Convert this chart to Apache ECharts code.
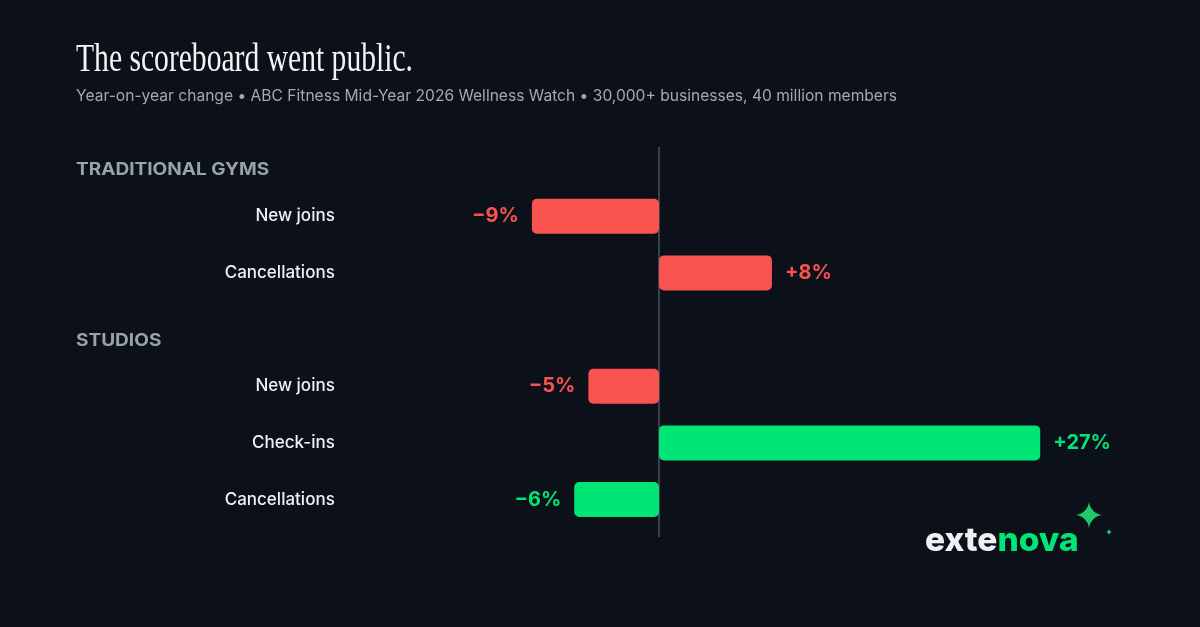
<!DOCTYPE html>
<html>
<head>
<meta charset="utf-8">
<script src="https://cdn.jsdelivr.net/npm/echarts@6/dist/echarts.min.js"></script>
<style>
html,body{margin:0;padding:0;background:#0c1018;}
#chart{width:1200px;height:627px;}
</style>
</head>
<body>
<div id="chart"></div>
<script>
const titleText = "The scoreboard went public.";
const subtitleText = "Year-on-year change \u2022 ABC Fitness Mid-Year 2026 Wellness Watch \u2022 30,000+ businesses, 40 million members";
const groupNames = ["TRADITIONAL GYMS", "STUDIOS"];
const gymCategories = ["New joins", "Cancellations"];
const gymValues = [-9, 8];
const studioCategories = ["New joins", "Check-ins", "Cancellations"];
const studioValues = [-5, 27, -6];
const xMin = -10, xMax = 30;

const RED = "#f8534f", GREEN = "#00e676";

// good outcome: cancellations falling, anything else rising
function isGood(cat, v) { return cat === "Cancellations" ? v < 0 : v > 0; }
function fmt(v) { return (v < 0 ? "\u2212" + Math.abs(v) : "+" + v) + "%"; }

const categories = gymCategories.concat([""], studioCategories);
const values = gymValues.concat([null], studioValues);

const seriesData = values.map((v, i) => {
  if (v === null) return { value: null };
  const c = isGood(categories[i], v) ? GREEN : RED;
  return {
    value: v,
    itemStyle: { color: c },
    label: { position: v < 0 ? "left" : "right", color: c }
  };
});

const chart = echarts.init(document.getElementById("chart"));
chart.setOption({
  backgroundColor: "#0c1018",
  animation: false,
  grid: { left: 517.8, right: 117.4, top: 187.9, height: 340 },
  xAxis: {
    type: "value", min: xMin, max: xMax,
    axisLine: { show: false }, axisTick: { show: false },
    axisLabel: { show: false }, splitLine: { show: false }
  },
  yAxis: {
    type: "category", inverse: true, data: categories,
    axisLine: { show: false }, axisTick: { show: false },
    axisLabel: {
      margin: 183, color: "#eef1f5", fontFamily: "Inter", fontSize: 17, fontWeight: 500,
      padding: [4, 0, 0, 0]
    }
  },
  series: [{
    type: "bar",
    data: seriesData,
    barWidth: 35,
    itemStyle: { borderRadius: 5 },
    z: 3,
    label: {
      show: true, distance: 13,
      fontFamily: "Inter", fontSize: 20, fontWeight: 700,
      padding: [3, 0, 0, 0],
      formatter: p => fmt(p.value)
    }
  }]
});

const zeroX = chart.convertToPixel({ xAxisIndex: 0 }, 0);

function starPoints(cx, cy, r) {
  const pts = [];
  for (let k = 0; k < 72; k++) {
    const t = k / 72 * Math.PI * 2;
    const c = Math.cos(t), s = Math.sin(t);
    pts.push([cx + r * Math.sign(c) * Math.pow(Math.abs(c), 3.4),
              cy + r * Math.sign(s) * Math.pow(Math.abs(s), 3.4)]);
  }
  return pts;
}

chart.setOption({
  graphic: [
    { type: "line", z: 1, silent: true,
      shape: { x1: zeroX, y1: 147, x2: zeroX, y2: 537 },
      style: { stroke: "#3a414b", lineWidth: 2 } },
    { type: "text", x: 76, y: 60, scaleX: 0.74,
      style: { text: titleText, font: "40px 'Liberation Serif'", fill: "#f2f3f5", verticalAlign: "middle" } },
    { type: "text", x: 76, y: 96,
      style: { text: subtitleText, font: "15.6px Inter", fill: "#a2a9b3", verticalAlign: "middle" } },
    { type: "text", x: 76, y: 170, scaleX: 1.12,
      style: { text: groupNames[0], font: "bold 17px Inter", fill: "#98a2ad", verticalAlign: "middle" } },
    { type: "text", x: 76, y: 341, scaleX: 1.12,
      style: { text: groupNames[1], font: "bold 17px Inter", fill: "#98a2ad", verticalAlign: "middle" } },
    { type: "text", x: 925, y: 541,
      style: {
        text: "{a|exte}{b|nova}", verticalAlign: "middle",
        rich: {
          a: { fontFamily: "Inter", fontWeight: 800, fontSize: 33.5, fill: "#eef0f4" },
          b: { fontFamily: "Inter", fontWeight: 800, fontSize: 33.5, fill: "#00e676" }
        }
      } },
    { type: "polygon", shape: { points: starPoints(1089, 515, 14) },
      style: { fill: "#1fc86a" } },
    { type: "polygon", shape: { points: starPoints(1109, 532, 3.5) },
      style: { fill: "#1fc86a" } }
  ]
});
</script>
</body>
</html>
